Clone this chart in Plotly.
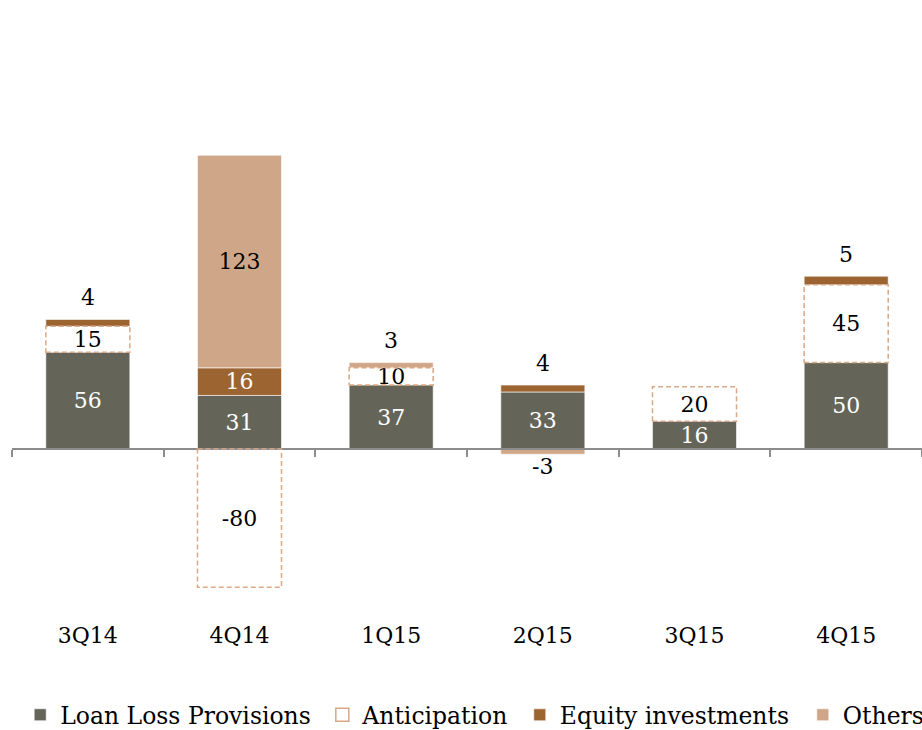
import plotly.graph_objects as go

categories = ["3Q14", "4Q14", "1Q15", "2Q15", "3Q15", "4Q15"]
loan_loss = [56, 31, 37, 33, 16, 50]
anticipation = [15, -80, 10, None, 20, 45]
equity = [4, 16, None, 4, None, 5]
others = [None, 123, 3, -3, None, None]

C_LLP = "#646558"
C_ANT_LINE = "#D9A885"
C_EQ = "#9B6431"
C_OTH = "#CFA687"
FONT = "DejaVu Serif"
FS = 22
LEG_FS = 23.5
SMALL = 6  # values this small get their label outside the bar

BAR_W = 0.554
Y_MIN, Y_MAX = -87.4, 202.0

series = [loan_loss, anticipation, equity, others]


def txt(vals):
    return [("" if (v is None or abs(v) < SMALL) else str(v)) for v in vals]


fig = go.Figure()


def add_bar(name, vals, color, text_color, legend, line_color="white", line_w=0.6, show=True):
    fig.add_trace(go.Bar(
        name=name, x=categories, y=vals,
        marker=dict(color=color, line=dict(color=line_color, width=line_w)),
        text=txt(vals), textposition="inside",
        insidetextanchor="middle", constraintext="none",
        insidetextfont=dict(family=FONT, size=FS, color=text_color),
        cliponaxis=False, showlegend=show, legend=legend,
        hoverinfo="skip",
    ))


add_bar("Loan Loss Provisions", loan_loss, C_LLP, "white", "legend")
add_bar("Anticipation", anticipation, "white", "black", "legend2", line_w=0, show=False)
add_bar("Equity investments", equity, C_EQ, "white", "legend3")
add_bar("Others", others, C_OTH, "black", "legend4")

# legend entry for the dashed "Anticipation" series
fig.add_trace(go.Scatter(
    x=[None], y=[None], mode="markers", name="Anticipation", legend="legend2",
    marker=dict(symbol="square", size=13, color="white", line=dict(color=C_ANT_LINE, width=1.5)),
    hoverinfo="skip",
))

# stack ends per category, computed from the data (relative stacking)
for i in range(len(categories)):
    pos_sum, neg_sum = 0, 0
    for s in series:
        v = s[i]
        if v is None:
            continue
        if v >= 0:
            y0 = pos_sum
            pos_sum += v
        else:
            y0 = neg_sum
            neg_sum += v
        y1 = y0 + v
        if s is anticipation:
            fig.add_shape(
                type="rect", xref="x", yref="y",
                x0=i - BAR_W / 2, x1=i + BAR_W / 2, y0=y0, y1=y1,
                line=dict(color=C_ANT_LINE, width=1.5, dash="5px,3px"),
                fillcolor="rgba(0,0,0,0)", layer="above",
            )
        if abs(v) < SMALL:
            fig.add_annotation(
                x=categories[i], y=y1, xref="x", yref="y", text=str(v), showarrow=False,
                yanchor="middle", yshift=22 if v > 0 else -12,
                font=dict(family=FONT, size=FS, color="black"),
            )

zero_frac = (0 - Y_MIN) / (Y_MAX - Y_MIN)

legend_common = dict(
    orientation="h", yanchor="middle", y=-0.23, xanchor="left",
    font=dict(family=FONT, size=LEG_FS, color="black"), bgcolor="rgba(0,0,0,0)",
    itemwidth=30, itemclick=False, itemdoubleclick=False,
)

fig.update_layout(
    width=922, height=730,
    margin=dict(l=12, r=0, t=100, b=130, autoexpand=False),
    paper_bgcolor="white", plot_bgcolor="white",
    barmode="relative", bargap=1 - BAR_W,
    font=dict(family=FONT, size=FS, color="black"),
    xaxis=dict(
        type="category", anchor="free", position=zero_frac,
        showline=True, linecolor="#8C8C8C", linewidth=2,
        ticks="outside", tickson="boundaries", ticklen=7, tickwidth=1.5, tickcolor="#8C8C8C",
        ticklabelstandoff=167, showgrid=False, zeroline=False,
        tickfont=dict(family=FONT, size=FS, color="black"),
    ),
    yaxis=dict(range=[Y_MIN, Y_MAX], visible=False, showgrid=False, zeroline=False),
    legend=dict(legend_common, x=0.009),
    legend2=dict(legend_common, x=0.341),
    legend3=dict(legend_common, x=0.558),
    legend4=dict(legend_common, x=0.869),
    uniformtext=dict(mode=False),
)

# remove the default page margin so the 922x730 figure fills the window exactly
fig.write_html(
    "out.html",
    config={"displayModeBar": False},
    post_script="document.body.style.margin='0';",
)
